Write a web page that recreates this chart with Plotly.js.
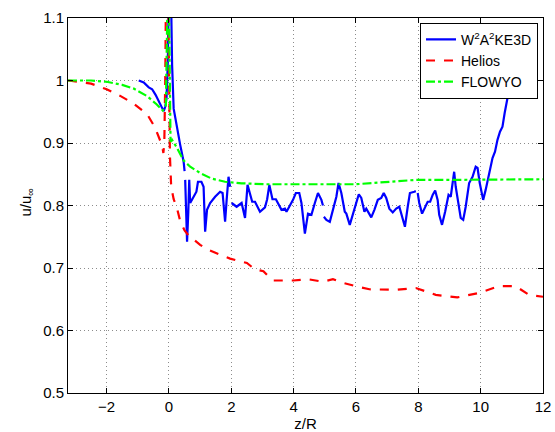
<!DOCTYPE html>
<html>
<head>
<meta charset="utf-8">
<script src="https://cdn.plot.ly/plotly-3.0.1.min.js"></script>
<style>html,body{margin:0;padding:0;background:#fff;}#chart{width:555px;height:432px;}</style>
</head>
<body>
<div id="chart"></div>
<script>
// W2A2KE3D (blue, solid) – null marks breaks between data segments
const w2X = [-0.97,-0.81,-0.65,-0.54,-0.43,-0.33,-0.22,-0.17,-0.12,-0.08,-0.04,-0.01,0.07,0.1,0.15,0.26,0.36,0.47,0.5,
  null,
  0.52,0.55,0.58,0.62,0.65,0.68,0.79,0.88,0.93,1.04,1.11,1.16,1.22,1.32,1.48,1.64,1.72,1.80,1.85,1.91,1.96,
  null,
  2.01,2.17,2.33,2.44,2.52,2.67,2.76,2.92,3.08,3.15,3.22,3.32,3.43,3.5,3.61,3.72,3.77,3.88,3.98,4.07,4.18,4.25,4.36,4.46,4.57,4.68,4.78,4.89,4.94,
  null,
  4.97,5.05,5.16,5.26,5.37,5.44,5.53,5.64,5.69,5.80,5.90,6.01,6.09,6.17,6.27,6.33,6.41,6.49,6.59,6.70,6.81,6.89,6.97,7.07,7.18,7.29,7.39,7.50,7.57,7.66,7.73,7.87,7.92,
  null,
  7.98,8.03,8.12,8.19,8.30,8.38,8.46,8.54,8.62,8.67,8.76,8.86,8.97,9.04,9.15,9.20,9.29,9.36,9.44,9.52,9.63,9.74,9.84,9.90,9.97,10.08,10.16,10.27,10.38,10.46,10.54,10.62,10.70,10.77,10.85,10.91,10.96,11.05,11.15];
const w2Y = [1.0,0.997,0.989,0.986,0.977,0.966,0.955,0.951,0.958,0.971,1.025,1.12,1.12,1.025,0.955,0.923,0.897,0.87,0.855,
  null,
  0.841,0.79,0.742,0.79,0.841,0.804,0.814,0.822,0.838,0.838,0.83,0.758,0.793,0.804,0.814,0.822,0.82,0.774,0.809,0.846,0.83,
  null,
  0.804,0.798,0.804,0.78,0.833,0.806,0.806,0.79,0.797,0.81,0.833,0.81,0.81,0.804,0.793,0.795,0.79,0.8,0.809,0.82,0.82,0.804,0.755,0.787,0.785,0.804,0.82,0.809,0.8,
  null,
  0.782,0.777,0.774,0.793,0.814,0.836,0.82,0.79,0.787,0.769,0.785,0.805,0.818,0.812,0.79,0.795,0.787,0.781,0.793,0.809,0.812,0.82,0.812,0.795,0.789,0.795,0.798,0.78,0.766,0.798,0.82,0.822,0.823,
  null,
  0.82,0.804,0.787,0.795,0.806,0.806,0.817,0.824,0.809,0.785,0.769,0.79,0.817,0.814,0.854,0.83,0.798,0.78,0.777,0.798,0.836,0.846,0.862,0.86,0.836,0.809,0.825,0.851,0.876,0.886,0.905,0.918,0.926,0.948,0.966,0.985,1.0,1.03,1.06];

// Helios (red, dashed)
const heliosX = [-3.24,-2.5,-2.0,-1.55,-1.13,-0.7,-0.45,-0.3,-0.22,-0.18,-0.15,-0.12,-0.1,-0.02,0.0,0.03,0.07,0.15,0.26,0.36,0.5,0.63,1.0,1.22,1.6,1.96,2.5,2.75,3.03,3.2,3.35,3.7,3.98,4.46,4.94,5.26,5.6,5.99,6.43,7.29,7.92,8.56,9.25,9.95,10.59,11.12,11.55,12.0];
const heliosY = [1.0,0.995,0.986,0.975,0.963,0.946,0.925,0.908,0.896,0.884,0.9,1.0,1.12,1.12,0.95,0.88,0.83,0.81,0.795,0.775,0.76,0.752,0.737,0.73,0.722,0.715,0.708,0.698,0.695,0.686,0.68,0.68,0.68,0.682,0.678,0.682,0.676,0.671,0.666,0.665,0.668,0.657,0.653,0.66,0.671,0.671,0.657,0.654];

// FLOWYO (green, dash-dot)
const flowyoX = [-3.24,-2.5,-2.0,-1.5,-1.13,-0.7,-0.4,-0.2,-0.1,-0.05,0.0,0.02,0.05,0.1,0.26,0.47,0.68,1.0,1.37,1.8,2.33,3.08,4.0,5.37,6.0,6.54,7.0,7.92,9.0,10.0,12.0];
const flowyoY = [1.0,1.0,0.998,0.993,0.987,0.975,0.962,0.952,0.96,1.12,1.12,1.0,0.902,0.905,0.892,0.872,0.862,0.852,0.843,0.838,0.8355,0.834,0.834,0.833,0.834,0.836,0.838,0.841,0.841,0.841,0.842];

const xTicks = [-2,0,2,4,6,8,10,12];
const yTicks = [0.5,0.6,0.7,0.8,0.9,1.0,1.1];
const yTickText = ['0.5','0.6','0.7','0.8','0.9','1','1.1'];

const font = {family:'"Liberation Sans", Arial, sans-serif', size:15, color:'#000'};
const legendFont = {family:'"Liberation Sans", Arial, sans-serif', size:14, color:'#000'};

const traces = [
  {x:w2X, y:w2Y, mode:'lines', name:'W<sup>2</sup>A<sup>2</sup>KE3D', connectgaps:false,
   line:{color:'#0000ff', width:2.2}},
  {x:heliosX, y:heliosY, mode:'lines', name:'Helios',
   line:{color:'#ff0000', width:2.2, dash:'dash'}},
  {x:flowyoX, y:flowyoY, mode:'lines', name:'FLOWYO',
   line:{color:'#00ff00', width:2.2, dash:'dashdot'}}
];

const axisCommon = {
  showline:true, linecolor:'#000', linewidth:1, mirror:'ticks',
  ticks:'inside', ticklen:5, tickcolor:'#000', tickwidth:1,
  showgrid:true, gridcolor:'#8c8c8c', griddash:'1px,3px', gridwidth:1,
  zeroline:false, tickfont:font
};

const layout = {
  width:555, height:432,
  margin:{l:67.5, r:11.7, t:18, b:39},
  paper_bgcolor:'#fff', plot_bgcolor:'#fff',
  font:font,
  showlegend:true,
  legend:{x:0.9895, xanchor:'right', y:0.9875, yanchor:'top',
    bgcolor:'#fff', bordercolor:'#000', borderwidth:1, font:legendFont, tracegroupgap:0},
  xaxis:Object.assign({}, axisCommon, {range:[-3.24,12], tickvals:xTicks,
    title:{text:'z/R', font:font, standoff:1}}),
  yaxis:Object.assign({}, axisCommon, {range:[0.5,1.1], tickvals:yTicks, ticktext:yTickText}),
  annotations:[{text:'u/u<sub>∞</sub>', xref:'paper', yref:'paper', x:0, y:0.5,
    xanchor:'center', yanchor:'middle', xshift:-42, yshift:3, textangle:-90, showarrow:false, font:font}]
};

Plotly.newPlot('chart', traces, layout, {displayModeBar:false, staticPlot:true});
</script>
</body>
</html>
